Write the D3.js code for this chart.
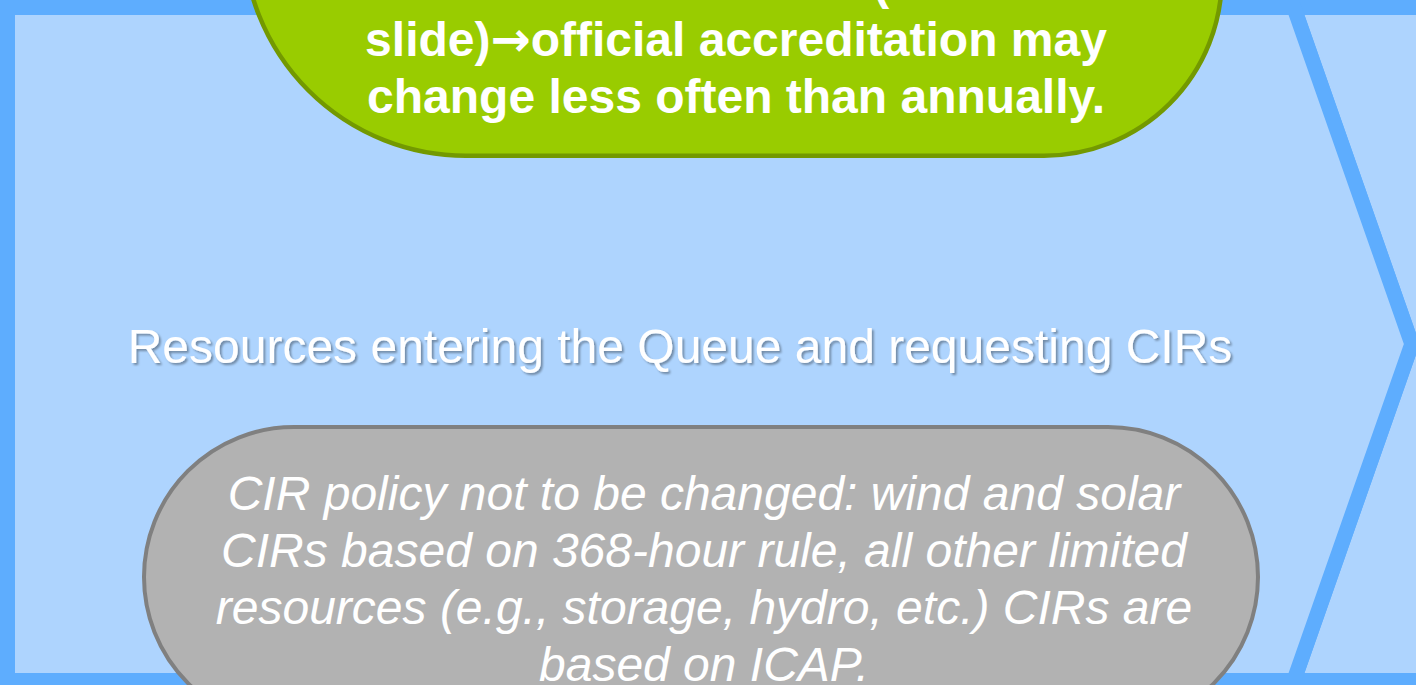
<!DOCTYPE html>
<meta charset="utf-8">
<style>

body {
  margin: 0;
  background: #fff;
}

svg {
  display: block;
  font-family: "Liberation Sans", Arial, sans-serif;
}

.chevron {
  fill: #aed4fe;
  stroke: #5eadfe;
  stroke-width: 15;
  stroke-linejoin: miter;
}

.note-green {
  fill: #99cc00;
  stroke: #739900;
  stroke-width: 4.5;
}

.note-gray {
  fill: #b2b2b2;
  stroke: #808080;
  stroke-width: 4;
}

text {
  fill: #fff;
  font-size: 48px;
  text-anchor: middle;
}

.green-text text {
  font-weight: bold;
}

.green-text .arrow {
  font-family: "DejaVu Sans", sans-serif;
}

.gray-text text {
  font-style: italic;
}

</style>
<body>
<script src="https://cdn.jsdelivr.net/npm/d3@7"></script>
<script>

// text content of the slide; each line is split on the arrow
var greenLines = [
  "Accreditation values (see next",
  "slide)\u2192official accreditation may",
  "change less often than annually."
];

var middleLabel = "Resources entering the Queue and requesting CIRs";

var grayLines = [
  "CIR policy not to be changed: wind and solar",
  "CIRs based on 368-hour rule, all other limited",
  "resources (e.g., storage, hydro, etc.) CIRs are",
  "based on ICAP."
];

var width = 1416,
    height = 685,
    lineHeight = 57;

var svg = d3.select("body").append("svg")
    .attr("width", width)
    .attr("height", height);

var shadow = svg.append("defs").append("filter")
    .attr("id", "shadow")
    .attr("x", "-5%").attr("y", "-20%")
    .attr("width", "110%").attr("height", "150%");

shadow.append("feDropShadow")
    .attr("dx", 2)
    .attr("dy", 2)
    .attr("stdDeviation", 1.2)
    .attr("flood-color", "#000")
    .attr("flood-opacity", 0.35);

// chevron outline: top/bottom stroke centres and the tip
var yTop = 7.5, yBottom = 680.5, tipX = 1411.8, notchX = 1293.9,
    tipY = (yTop + yBottom) / 2;

var p = d3.path();
p.moveTo(7.5, yTop);
p.lineTo(notchX, yTop);
p.lineTo(tipX, tipY);
p.lineTo(notchX, yBottom);
p.lineTo(7.5, yBottom);
p.closePath();

// next step, only its notch shows
var q = d3.path();
q.moveTo(notchX, yTop);
q.lineTo(width + 40, yTop);
q.lineTo(width + 40, yBottom);
q.lineTo(notchX, yBottom);
q.lineTo(tipX, tipY);
q.closePath();

svg.selectAll("path.chevron")
    .data([q.toString(), p.toString()])
  .enter().append("path")
    .attr("class", "chevron")
    .attr("d", function(d) { return d; });

// green callout, its top runs off the slide
var g = d3.path(),
    gb = 155.75, rl = 222.75, rr = 177.75,
    clx = 466, crx = 1044;
g.moveTo(clx - rl, -300);
g.lineTo(clx - rl, gb - rl);
g.arc(clx, gb - rl, rl, Math.PI, Math.PI / 2, true);
g.lineTo(crx, gb);
g.arc(crx, gb - rr, rr, Math.PI / 2, 0, true);
g.lineTo(crx + rr, -300);
g.closePath();

svg.append("path")
    .attr("class", "note-green")
    .attr("d", g.toString());

var greenText = svg.append("g")
    .attr("class", "green-text")
  .selectAll("text")
    .data(greenLines)
  .enter().append("text")
    .attr("x", 736)
    .attr("y", function(d, i) { return -1 + i * lineHeight; });

greenText.each(function(d) {
  var t = d3.select(this),
      parts = d.split("\u2192");
  parts.forEach(function(s, k) {
    if (k > 0) t.append("tspan").attr("class", "arrow").text("\u2192");
    t.append("tspan").text(s);
  });
});

svg.append("text")
    .attr("x", 680)
    .attr("y", 363)
    .attr("filter", "url(#shadow)")
    .text(middleLabel);

// gray callout
svg.append("rect")
    .attr("class", "note-gray")
    .attr("x", 144)
    .attr("y", 427)
    .attr("width", 1114)
    .attr("height", 300)
    .attr("rx", 150);

svg.append("g")
    .attr("class", "gray-text")
  .selectAll("text")
    .data(grayLines)
  .enter().append("text")
    .attr("x", 704)
    .attr("y", function(d, i) { return 510 + i * lineHeight; })
    .text(function(d) { return d; });

</script>
